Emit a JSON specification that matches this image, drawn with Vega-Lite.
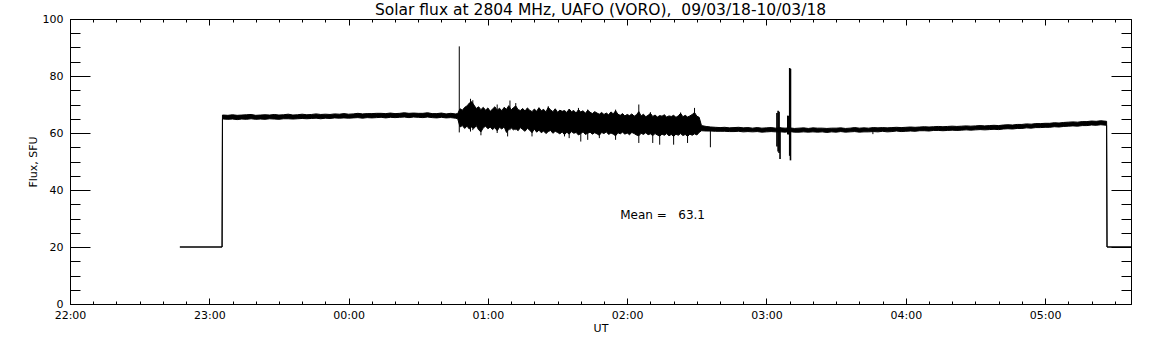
{
  "$schema": "https://vega.github.io/schema/vega-lite/v6.json",
  "width": 1061,
  "height": 285,
  "autosize": {"type": "none"},
  "padding": {"left": 70, "top": 19, "right": 21, "bottom": 41},
  "background": "white",
  "title": {"text": "Solar flux at 2804 MHz, UAFO (VORO),\u00a0 09/03/18-10/03/18", "font": "DejaVu Sans", "fontSize": 15.5, "fontWeight": "normal", "color": "black", "offset": -5},
  "config": {
    "view": {"stroke": null},
    "axis": {"labelFont": "DejaVu Sans", "labelFontSize": 11, "labelColor": "black", "titleFont": "DejaVu Sans", "titleFontSize": 11, "titleFontWeight": "normal", "titleColor": "black", "domainColor": "black", "tickColor": "black", "grid": false, "labelFlush": false, "labelOverlap": false}
  },
  "datasets": {
    "band": [
      {"min": 47.33, "lo": 20, "hi": 20},
      {"min": 65.5, "lo": 20, "hi": 20},
      {"min": 65.67, "lo": 64.9, "hi": 66.3},
      {"min": 66, "lo": 64.9, "hi": 66.3},
      {"min": 68, "lo": 64.8, "hi": 66.2},
      {"min": 70, "lo": 64.9, "hi": 66.4},
      {"min": 72, "lo": 64.7, "hi": 66.2},
      {"min": 74, "lo": 64.9, "hi": 66.3},
      {"min": 76, "lo": 64.8, "hi": 66.4},
      {"min": 78, "lo": 65.0, "hi": 66.5},
      {"min": 80, "lo": 64.8, "hi": 66.2},
      {"min": 82, "lo": 64.9, "hi": 66.3},
      {"min": 84, "lo": 64.8, "hi": 66.4},
      {"min": 86, "lo": 65.0, "hi": 66.3},
      {"min": 88, "lo": 64.9, "hi": 66.5},
      {"min": 90, "lo": 64.8, "hi": 66.3},
      {"min": 92, "lo": 65.0, "hi": 66.4},
      {"min": 94, "lo": 65.0, "hi": 66.6},
      {"min": 96, "lo": 64.9, "hi": 66.3},
      {"min": 98, "lo": 65.0, "hi": 66.4},
      {"min": 100, "lo": 65.1, "hi": 66.6},
      {"min": 102, "lo": 65.0, "hi": 66.4},
      {"min": 104, "lo": 65.1, "hi": 66.5},
      {"min": 106, "lo": 65.2, "hi": 66.7},
      {"min": 108, "lo": 65.0, "hi": 66.5},
      {"min": 110, "lo": 65.2, "hi": 66.6},
      {"min": 112, "lo": 65.1, "hi": 66.5},
      {"min": 114, "lo": 65.3, "hi": 66.7},
      {"min": 116, "lo": 65.2, "hi": 66.6},
      {"min": 118, "lo": 65.3, "hi": 66.8},
      {"min": 120, "lo": 65.2, "hi": 66.6},
      {"min": 122, "lo": 65.3, "hi": 66.7},
      {"min": 124, "lo": 65.4, "hi": 66.9},
      {"min": 126, "lo": 65.2, "hi": 66.7},
      {"min": 128, "lo": 65.4, "hi": 66.8},
      {"min": 130, "lo": 65.3, "hi": 66.8},
      {"min": 132, "lo": 65.4, "hi": 66.9},
      {"min": 134, "lo": 65.5, "hi": 66.9},
      {"min": 136, "lo": 65.3, "hi": 66.8},
      {"min": 138, "lo": 65.5, "hi": 67.0},
      {"min": 140, "lo": 65.4, "hi": 66.8},
      {"min": 142, "lo": 65.5, "hi": 66.9},
      {"min": 144, "lo": 65.6, "hi": 67.1},
      {"min": 146, "lo": 65.4, "hi": 66.9},
      {"min": 148, "lo": 65.6, "hi": 67.0},
      {"min": 150, "lo": 65.5, "hi": 66.9},
      {"min": 152, "lo": 65.4, "hi": 66.9},
      {"min": 154, "lo": 65.6, "hi": 67.1},
      {"min": 156, "lo": 65.4, "hi": 66.8},
      {"min": 158, "lo": 65.3, "hi": 66.8},
      {"min": 160, "lo": 65.5, "hi": 67.0},
      {"min": 162, "lo": 65.3, "hi": 66.7},
      {"min": 164, "lo": 65.4, "hi": 66.9},
      {"min": 166, "lo": 65.2, "hi": 66.7},
      {"min": 167, "lo": 65.0, "hi": 66.8},
      {"min": 168, "lo": 62.1, "hi": 68.5},
      {"min": 169, "lo": 62.6, "hi": 68.0},
      {"min": 170, "lo": 61.6, "hi": 69.0},
      {"min": 171, "lo": 62.4, "hi": 69.5},
      {"min": 172, "lo": 61.4, "hi": 70.5},
      {"min": 173, "lo": 62.1, "hi": 71.0},
      {"min": 174, "lo": 61.6, "hi": 69.8},
      {"min": 175, "lo": 62.6, "hi": 68.6},
      {"min": 176, "lo": 61.1, "hi": 69.2},
      {"min": 177, "lo": 60.4, "hi": 68.2},
      {"min": 178, "lo": 61.8, "hi": 69.0},
      {"min": 179, "lo": 62.4, "hi": 68.0},
      {"min": 180, "lo": 61.5, "hi": 68.8},
      {"min": 181, "lo": 62.1, "hi": 67.6},
      {"min": 182, "lo": 61.2, "hi": 68.4},
      {"min": 183, "lo": 61.9, "hi": 69.2},
      {"min": 184, "lo": 60.8, "hi": 68.0},
      {"min": 185, "lo": 62.0, "hi": 68.7},
      {"min": 186, "lo": 61.4, "hi": 67.8},
      {"min": 187, "lo": 62.2, "hi": 69.0},
      {"min": 188, "lo": 60.2, "hi": 68.3},
      {"min": 189, "lo": 61.3, "hi": 69.6},
      {"min": 190, "lo": 61.8, "hi": 68.1},
      {"min": 191, "lo": 61.1, "hi": 68.9},
      {"min": 192, "lo": 61.6, "hi": 69.5},
      {"min": 193, "lo": 60.8, "hi": 68.2},
      {"min": 194, "lo": 61.9, "hi": 67.9},
      {"min": 195, "lo": 61.2, "hi": 68.6},
      {"min": 196, "lo": 60.6, "hi": 67.7},
      {"min": 197, "lo": 61.7, "hi": 68.8},
      {"min": 198, "lo": 61.0, "hi": 68.0},
      {"min": 199, "lo": 60.1, "hi": 67.5},
      {"min": 200, "lo": 61.4, "hi": 68.4},
      {"min": 201, "lo": 60.3, "hi": 67.6},
      {"min": 202, "lo": 61.0, "hi": 68.9},
      {"min": 203, "lo": 60.1, "hi": 67.8},
      {"min": 204, "lo": 60.7, "hi": 68.3},
      {"min": 205, "lo": 59.8, "hi": 67.4},
      {"min": 206, "lo": 60.5, "hi": 69.0},
      {"min": 207, "lo": 60.9, "hi": 68.1},
      {"min": 208, "lo": 59.9, "hi": 67.5},
      {"min": 209, "lo": 60.6, "hi": 68.5},
      {"min": 210, "lo": 60.2, "hi": 67.3},
      {"min": 211, "lo": 59.7, "hi": 68.0},
      {"min": 212, "lo": 60.4, "hi": 67.6},
      {"min": 213, "lo": 59.4, "hi": 67.9},
      {"min": 214, "lo": 60.3, "hi": 67.2},
      {"min": 215, "lo": 59.6, "hi": 68.4},
      {"min": 216, "lo": 60.5, "hi": 67.5},
      {"min": 217, "lo": 59.9, "hi": 67.9},
      {"min": 218, "lo": 60.2, "hi": 67.0},
      {"min": 219, "lo": 59.3, "hi": 68.2},
      {"min": 220, "lo": 59.8, "hi": 67.4},
      {"min": 221, "lo": 60.4, "hi": 67.8},
      {"min": 222, "lo": 59.5, "hi": 66.9},
      {"min": 223, "lo": 59.9, "hi": 68.0},
      {"min": 224, "lo": 60.3, "hi": 67.3},
      {"min": 225, "lo": 59.6, "hi": 66.8},
      {"min": 226, "lo": 60.1, "hi": 67.5},
      {"min": 227, "lo": 59.7, "hi": 67.0},
      {"min": 228, "lo": 59.2, "hi": 66.6},
      {"min": 229, "lo": 60.2, "hi": 67.2},
      {"min": 230, "lo": 59.8, "hi": 66.5},
      {"min": 231, "lo": 60.4, "hi": 67.0},
      {"min": 232, "lo": 59.5, "hi": 66.4},
      {"min": 233, "lo": 60.0, "hi": 67.4},
      {"min": 234, "lo": 59.6, "hi": 66.7},
      {"min": 235, "lo": 59.0, "hi": 67.8},
      {"min": 236, "lo": 60.1, "hi": 66.6},
      {"min": 237, "lo": 59.7, "hi": 66.2},
      {"min": 238, "lo": 60.3, "hi": 66.8},
      {"min": 239, "lo": 59.6, "hi": 66.0},
      {"min": 240, "lo": 60.0, "hi": 66.5},
      {"min": 241, "lo": 59.4, "hi": 66.1},
      {"min": 242, "lo": 60.2, "hi": 66.7},
      {"min": 243, "lo": 59.8, "hi": 65.9},
      {"min": 244, "lo": 59.3, "hi": 66.4},
      {"min": 245, "lo": 59.0, "hi": 67.5},
      {"min": 246, "lo": 59.9, "hi": 66.0},
      {"min": 247, "lo": 59.5, "hi": 66.6},
      {"min": 248, "lo": 60.1, "hi": 65.7},
      {"min": 249, "lo": 59.4, "hi": 66.2},
      {"min": 250, "lo": 59.7, "hi": 66.9},
      {"min": 251, "lo": 59.1, "hi": 65.8},
      {"min": 252, "lo": 59.8, "hi": 66.3},
      {"min": 253, "lo": 59.3, "hi": 65.6},
      {"min": 254, "lo": 58.9, "hi": 66.1},
      {"min": 255, "lo": 59.6, "hi": 65.9},
      {"min": 256, "lo": 59.2, "hi": 66.4},
      {"min": 257, "lo": 59.8, "hi": 65.6},
      {"min": 258, "lo": 59.0, "hi": 66.0},
      {"min": 259, "lo": 59.5, "hi": 65.8},
      {"min": 260, "lo": 58.8, "hi": 66.2},
      {"min": 261, "lo": 59.6, "hi": 65.5},
      {"min": 262, "lo": 59.2, "hi": 66.0},
      {"min": 263, "lo": 59.8, "hi": 66.9},
      {"min": 264, "lo": 59.1, "hi": 65.7},
      {"min": 265, "lo": 59.5, "hi": 66.2},
      {"min": 266, "lo": 58.8, "hi": 65.6},
      {"min": 267, "lo": 59.6, "hi": 66.0},
      {"min": 268, "lo": 59.2, "hi": 66.5},
      {"min": 269, "lo": 59.7, "hi": 67.2},
      {"min": 270, "lo": 59.3, "hi": 65.9},
      {"min": 271, "lo": 60.2, "hi": 65.5},
      {"min": 272, "lo": 60.8, "hi": 62.6},
      {"min": 274, "lo": 60.7, "hi": 62.3},
      {"min": 276, "lo": 60.7, "hi": 62.1},
      {"min": 278, "lo": 60.6, "hi": 62.0},
      {"min": 280, "lo": 60.6, "hi": 61.9},
      {"min": 282, "lo": 60.6, "hi": 62.0},
      {"min": 284, "lo": 60.5, "hi": 61.8},
      {"min": 286, "lo": 60.5, "hi": 61.9},
      {"min": 288, "lo": 60.6, "hi": 62.0},
      {"min": 290, "lo": 60.4, "hi": 61.8},
      {"min": 292, "lo": 60.5, "hi": 61.9},
      {"min": 294, "lo": 60.4, "hi": 61.7},
      {"min": 296, "lo": 60.5, "hi": 61.9},
      {"min": 298, "lo": 60.3, "hi": 61.7},
      {"min": 300, "lo": 60.4, "hi": 61.8},
      {"min": 302, "lo": 60.5, "hi": 61.9},
      {"min": 304, "lo": 60.4, "hi": 61.7},
      {"min": 306, "lo": 60.4, "hi": 61.8},
      {"min": 308, "lo": 60.3, "hi": 61.7},
      {"min": 310, "lo": 60.5, "hi": 61.8},
      {"min": 312, "lo": 60.3, "hi": 61.6},
      {"min": 314, "lo": 60.3, "hi": 61.7},
      {"min": 316, "lo": 60.4, "hi": 61.8},
      {"min": 318, "lo": 60.3, "hi": 61.6},
      {"min": 320, "lo": 60.4, "hi": 61.8},
      {"min": 322, "lo": 60.3, "hi": 61.7},
      {"min": 324, "lo": 60.4, "hi": 61.7},
      {"min": 326, "lo": 60.2, "hi": 61.6},
      {"min": 328, "lo": 60.4, "hi": 61.7},
      {"min": 330, "lo": 60.3, "hi": 61.7},
      {"min": 332, "lo": 60.5, "hi": 61.8},
      {"min": 334, "lo": 60.3, "hi": 61.6},
      {"min": 336, "lo": 60.4, "hi": 61.7},
      {"min": 338, "lo": 60.5, "hi": 61.9},
      {"min": 340, "lo": 60.3, "hi": 61.7},
      {"min": 342, "lo": 60.4, "hi": 61.8},
      {"min": 344, "lo": 60.4, "hi": 61.7},
      {"min": 346, "lo": 60.5, "hi": 61.9},
      {"min": 348, "lo": 60.4, "hi": 61.8},
      {"min": 350, "lo": 60.6, "hi": 61.9},
      {"min": 352, "lo": 60.4, "hi": 61.8},
      {"min": 354, "lo": 60.5, "hi": 61.9},
      {"min": 356, "lo": 60.7, "hi": 62.0},
      {"min": 358, "lo": 60.5, "hi": 61.9},
      {"min": 360, "lo": 60.6, "hi": 62.0},
      {"min": 362, "lo": 60.7, "hi": 62.1},
      {"min": 364, "lo": 60.6, "hi": 62.0},
      {"min": 366, "lo": 60.8, "hi": 62.1},
      {"min": 368, "lo": 60.8, "hi": 62.2},
      {"min": 370, "lo": 60.7, "hi": 62.1},
      {"min": 372, "lo": 60.9, "hi": 62.2},
      {"min": 374, "lo": 60.9, "hi": 62.3},
      {"min": 376, "lo": 60.8, "hi": 62.2},
      {"min": 378, "lo": 60.9, "hi": 62.3},
      {"min": 380, "lo": 61.0, "hi": 62.4},
      {"min": 382, "lo": 60.9, "hi": 62.3},
      {"min": 384, "lo": 61.0, "hi": 62.4},
      {"min": 386, "lo": 61.1, "hi": 62.5},
      {"min": 388, "lo": 61.0, "hi": 62.4},
      {"min": 390, "lo": 61.1, "hi": 62.5},
      {"min": 392, "lo": 61.2, "hi": 62.6},
      {"min": 394, "lo": 61.1, "hi": 62.5},
      {"min": 396, "lo": 61.2, "hi": 62.6},
      {"min": 398, "lo": 61.3, "hi": 62.7},
      {"min": 400, "lo": 61.2, "hi": 62.6},
      {"min": 402, "lo": 61.4, "hi": 62.8},
      {"min": 404, "lo": 61.5, "hi": 62.9},
      {"min": 406, "lo": 61.4, "hi": 62.8},
      {"min": 408, "lo": 61.6, "hi": 63.0},
      {"min": 410, "lo": 61.6, "hi": 63.0},
      {"min": 412, "lo": 61.8, "hi": 63.2},
      {"min": 414, "lo": 61.7, "hi": 63.1},
      {"min": 416, "lo": 61.9, "hi": 63.3},
      {"min": 418, "lo": 61.9, "hi": 63.3},
      {"min": 420, "lo": 62.0, "hi": 63.4},
      {"min": 422, "lo": 62.0, "hi": 63.4},
      {"min": 424, "lo": 62.2, "hi": 63.6},
      {"min": 426, "lo": 62.1, "hi": 63.5},
      {"min": 428, "lo": 62.3, "hi": 63.7},
      {"min": 430, "lo": 62.4, "hi": 63.8},
      {"min": 432, "lo": 62.5, "hi": 63.9},
      {"min": 434, "lo": 62.4, "hi": 63.8},
      {"min": 436, "lo": 62.6, "hi": 64.0},
      {"min": 438, "lo": 62.6, "hi": 64.0},
      {"min": 440, "lo": 62.8, "hi": 64.2},
      {"min": 442, "lo": 62.7, "hi": 64.1},
      {"min": 444, "lo": 62.9, "hi": 64.3},
      {"min": 446.5, "lo": 62.7, "hi": 64.1},
      {"min": 446.67, "lo": 20, "hi": 20},
      {"min": 457, "lo": 20, "hi": 20}
    ],
    "spikes": [
      {"min": 167.67, "lo": 60.2, "hi": 90.4},
      {"min": 172.5, "lo": 60.5, "hi": 72.0},
      {"min": 173.5, "lo": 61.0, "hi": 71.5},
      {"min": 177, "lo": 59.2, "hi": 66.0},
      {"min": 184, "lo": 60.0, "hi": 70.0},
      {"min": 188.5, "lo": 58.8, "hi": 66.0},
      {"min": 189.5, "lo": 61.0, "hi": 71.4},
      {"min": 192, "lo": 61.0, "hi": 70.5},
      {"min": 199, "lo": 58.8, "hi": 66.0},
      {"min": 206, "lo": 61.0, "hi": 69.4},
      {"min": 213, "lo": 58.8, "hi": 66.0},
      {"min": 215, "lo": 58.2, "hi": 66.0},
      {"min": 219, "lo": 61.0, "hi": 68.8},
      {"min": 220, "lo": 57.0, "hi": 65.0},
      {"min": 223, "lo": 57.6, "hi": 68.2},
      {"min": 228, "lo": 58.2, "hi": 65.0},
      {"min": 235, "lo": 57.6, "hi": 68.2},
      {"min": 245, "lo": 56.5, "hi": 70.0},
      {"min": 250, "lo": 60.0, "hi": 67.3},
      {"min": 251, "lo": 56.5, "hi": 64.0},
      {"min": 254, "lo": 55.9, "hi": 64.0},
      {"min": 260, "lo": 55.9, "hi": 64.0},
      {"min": 263, "lo": 60.0, "hi": 67.2},
      {"min": 266, "lo": 56.5, "hi": 64.0},
      {"min": 269, "lo": 60.0, "hi": 68.8},
      {"min": 275.83, "lo": 55.0, "hi": 61.5},
      {"min": 345.83, "lo": 59.6, "hi": 61.0}
    ],
    "bursts": [
      {"min": 304.5, "lo": 55.3, "hi": 67.0},
      {"min": 305, "lo": 53.5, "hi": 67.8},
      {"min": 305.42, "lo": 53.0, "hi": 67.5},
      {"min": 305.83, "lo": 50.9, "hi": 62.0},
      {"min": 309.17, "lo": 59.5, "hi": 66.1},
      {"min": 309.58, "lo": 59.5, "hi": 66.0},
      {"min": 310, "lo": 52.0, "hi": 82.8},
      {"min": 310.33, "lo": 50.4, "hi": 82.5}
    ],
    "notes": [
      {"min": 237, "v": 31.3, "label": "Mean\u00a0=\u00a0\u00a0\u00a063.1"}
    ]
  },
  "resolve": {"axis": {"x": "independent", "y": "independent"}},
  "layer": [
    {
      "data": {"name": "band"},
      "mark": {"type": "area", "color": "black", "stroke": "black", "strokeWidth": 1, "fillOpacity": 1},
      "encoding": {
        "x": {"field": "min", "type": "quantitative",
          "scale": {"domain": [0, 457], "nice": false, "zero": false},
          "axis": {"orient": "bottom", "title": "UT", "values": [0, 60, 120, 180, 240, 300, 360, 420], "labelExpr": "pad(toString((22 + datum.value / 60) % 24), 2, '0', 'left') + ':00'", "tickSize": -6, "labelPadding": 11, "titlePadding": 2, "domain": true}},
        "y": {"field": "lo", "type": "quantitative",
          "scale": {"domain": [0, 100], "nice": false, "zero": true},
          "axis": {"orient": "left", "title": "Flux, SFU", "values": [0, 20, 40, 60, 80, 100], "tickSize": -20, "labelPadding": 27, "titlePadding": 4, "domain": true}},
        "y2": {"field": "hi"}
      }
    },
    {
      "data": {"name": "spikes"},
      "mark": {"type": "rule", "color": "black", "strokeWidth": 1},
      "encoding": {
        "x": {"field": "min", "type": "quantitative",
          "axis": {"orient": "bottom", "title": null, "labels": false, "domain": false, "values": [0, 10, 20, 30, 40, 50, 60, 70, 80, 90, 100, 110, 120, 130, 140, 150, 160, 170, 180, 190, 200, 210, 220, 230, 240, 250, 260, 270, 280, 290, 300, 310, 320, 330, 340, 350, 360, 370, 380, 390, 400, 410, 420, 430, 440, 450], "tickSize": -3}},
        "y": {"field": "lo", "type": "quantitative",
          "axis": {"orient": "left", "title": null, "labels": false, "domain": false, "values": [0, 5, 10, 15, 20, 25, 30, 35, 40, 45, 50, 55, 60, 65, 70, 75, 80, 85, 90, 95, 100], "tickSize": -10}},
        "y2": {"field": "hi"}
      }
    },
    {
      "data": {"name": "bursts"},
      "mark": {"type": "rule", "color": "black", "strokeWidth": 1.6},
      "encoding": {
        "x": {"field": "min", "type": "quantitative",
          "axis": {"orient": "top", "title": null, "labels": false, "domain": true, "values": [0, 60, 120, 180, 240, 300, 360, 420], "tickSize": -6}},
        "y": {"field": "lo", "type": "quantitative",
          "axis": {"orient": "right", "title": null, "labels": false, "domain": true, "values": [0, 20, 40, 60, 80, 100], "tickSize": -20}},
        "y2": {"field": "hi"}
      }
    },
    {
      "data": {"name": "notes"},
      "mark": {"type": "text", "color": "black", "font": "DejaVu Sans", "fontSize": 12, "align": "left", "baseline": "middle"},
      "encoding": {
        "x": {"field": "min", "type": "quantitative",
          "axis": {"orient": "top", "title": null, "labels": false, "domain": false, "values": [0, 10, 20, 30, 40, 50, 60, 70, 80, 90, 100, 110, 120, 130, 140, 150, 160, 170, 180, 190, 200, 210, 220, 230, 240, 250, 260, 270, 280, 290, 300, 310, 320, 330, 340, 350, 360, 370, 380, 390, 400, 410, 420, 430, 440, 450], "tickSize": -3}},
        "y": {"field": "v", "type": "quantitative",
          "axis": {"orient": "right", "title": null, "labels": false, "domain": false, "values": [0, 5, 10, 15, 20, 25, 30, 35, 40, 45, 50, 55, 60, 65, 70, 75, 80, 85, 90, 95, 100], "tickSize": -10}},
        "text": {"field": "label"}
      }
    }
  ]
}
